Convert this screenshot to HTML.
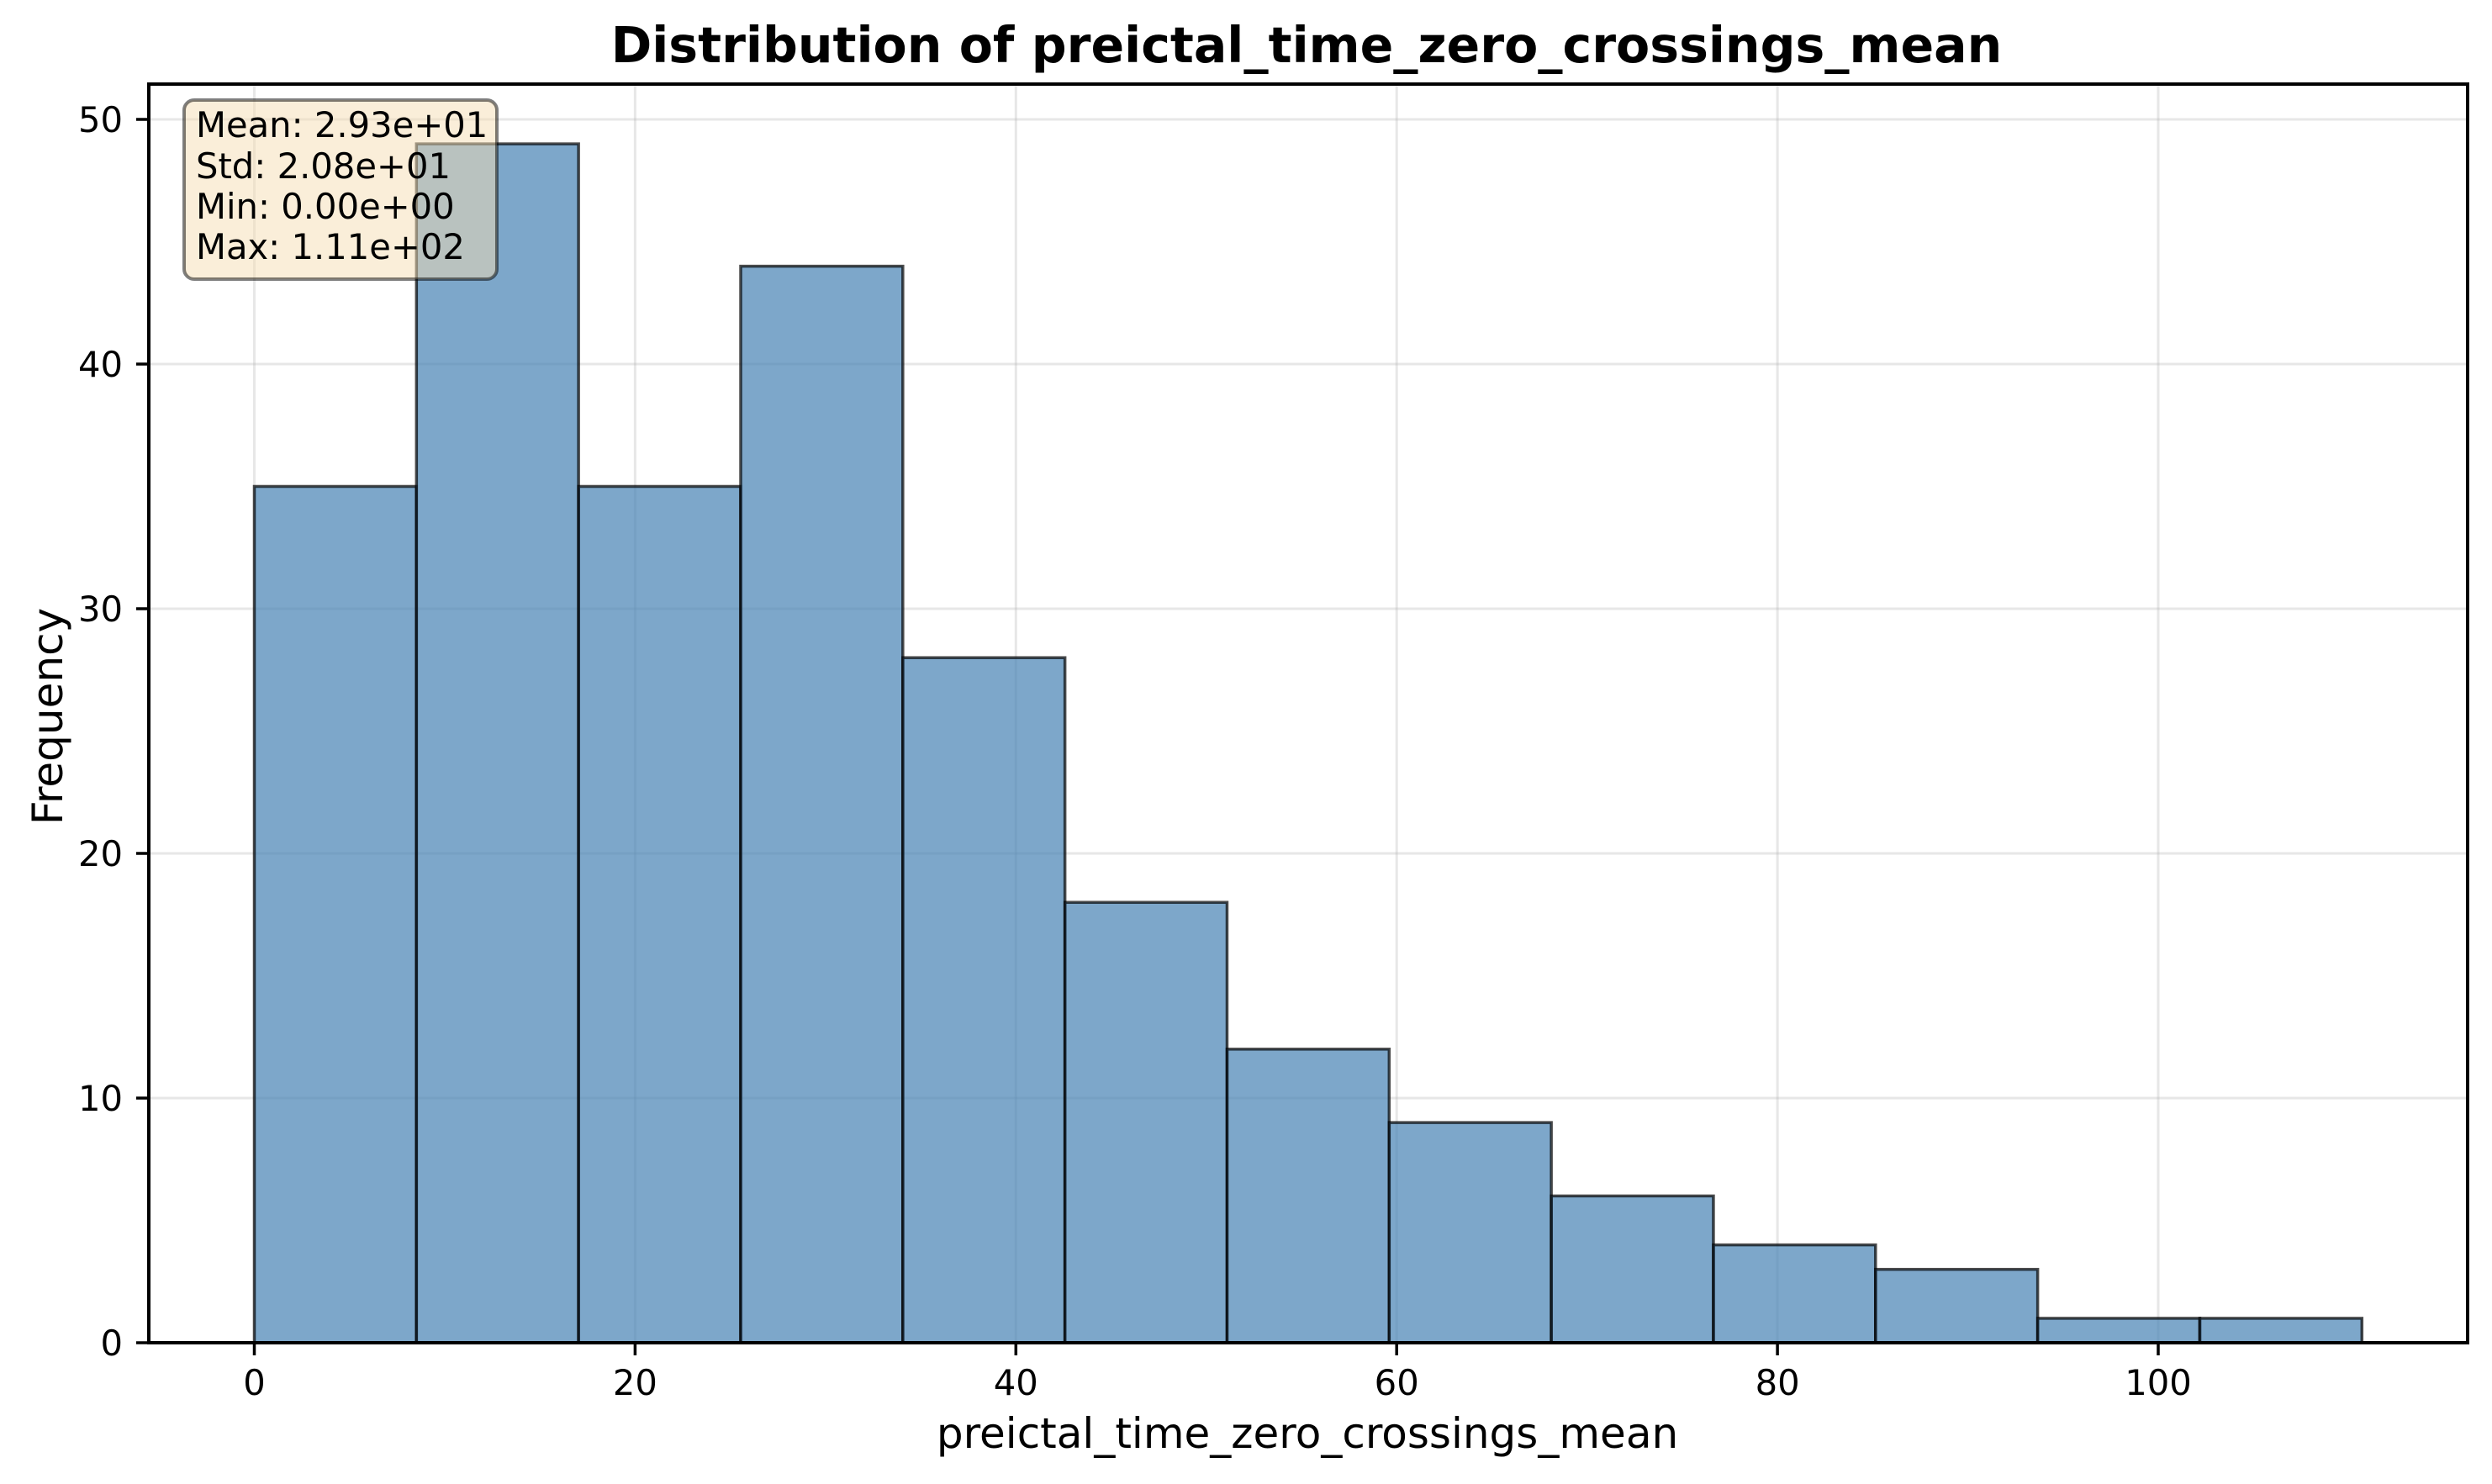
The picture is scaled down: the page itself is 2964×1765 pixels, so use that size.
<!DOCTYPE html>
<html><head><meta charset="utf-8"><style>
html,body{margin:0;padding:0;background:#fff;}
svg{display:block;font-family:"DejaVu Sans","Liberation Sans",sans-serif;}
</style></head><body>
<svg id="chart" width="2964" height="1765" viewBox="0 0 2964 1765" xmlns="http://www.w3.org/2000/svg">
<rect width="2964" height="1765" fill="#fff"/>
<g id="grid"></g>
<g id="bars"></g>
<g id="axes"></g>
<text x="1554" y="74" text-anchor="middle" font-size="58.5" font-weight="bold">Distribution of preictal_time_zero_crossings_mean</text>
<text x="1555" y="1722" text-anchor="middle" font-size="50">preictal_time_zero_crossings_mean</text>
<text transform="translate(74,852) rotate(-90)" text-anchor="middle" font-size="50">Frequency</text>
<g>
<rect x="219" y="119" width="372" height="213" rx="12" fill="#f5deb3" fill-opacity="0.5" stroke="#000" stroke-opacity="0.5" stroke-width="4"/>
<text x="233" y="163" font-size="41.7">Mean: 2.93e+01</text>
<text x="233" y="212" font-size="41.7">Std: 2.08e+01</text>
<text x="233" y="260" font-size="41.7">Min: 0.00e+00</text>
<text x="233" y="308" font-size="41.7">Max: 1.11e+02</text>
</g>
</svg>
<script>
const binMin = 0;
const binMax = 110.7;
const counts = [35, 49, 35, 44, 28, 18, 12, 9, 6, 4, 3, 1, 1];
const xTicks = [0, 20, 40, 60, 80, 100];
const yTicks = [0, 10, 20, 30, 40, 50];

const L = 177, R = 2935, T = 100, B = 1597;
const x0px = 302.5, xPerUnit = 22.645;
const yPerUnit = 29.1;
const X = v => x0px + v * xPerUnit;
const Y = v => B - v * yPerUnit;
const NS = "http://www.w3.org/2000/svg";
function mk(tag, attrs, parent) {
  const e = document.createElementNS(NS, tag);
  for (const k in attrs) e.setAttribute(k, attrs[k]);
  parent.appendChild(e);
  return e;
}
const grid = document.getElementById('grid');
const bars = document.getElementById('bars');
const axes = document.getElementById('axes');

xTicks.forEach(t => {
  const g = mk('line', {x1: X(t), x2: X(t), y1: T, y2: B, stroke: '#b0b0b0', 'stroke-opacity': 0.3, 'stroke-width': 3}, grid);
  
  
});
yTicks.forEach(t => {
  const g = mk('line', {x1: L, x2: R, y1: Y(t), y2: Y(t), stroke: '#b0b0b0', 'stroke-opacity': 0.3, 'stroke-width': 3}, grid);
  
  
});

const w = (binMax - binMin) / counts.length;
counts.forEach((c, i) => {
  const a = binMin + i * w, b = a + w;
  const r = mk('rect', {x: X(a), y: Y(c), width: X(b) - X(a), height: Y(0) - Y(c), fill: '#4682b4', 'fill-opacity': 0.7, stroke: '#000', 'stroke-opacity': 0.7, 'stroke-width': 3.5}, bars);
  
  
});

const frame = mk('rect', {x: L, y: T, width: R - L, height: B - T, fill: 'none', stroke: '#000', 'stroke-width': 4}, axes);



xTicks.forEach(t => {
  const tk = mk('line', {x1: X(t), x2: X(t), y1: B, y2: B + 15, stroke: '#000', 'stroke-width': 3.5}, axes);
  
  
  const tx = mk('text', {x: X(t), y: 1659, 'text-anchor': 'middle', 'font-size': 41.7}, axes);
  tx.textContent = t;
  
  
});
yTicks.forEach(t => {
  const tk = mk('line', {x1: L - 15, x2: L, y1: Y(t), y2: Y(t), stroke: '#000', 'stroke-width': 3.5}, axes);
  
  
  const tx = mk('text', {x: 146, y: Y(t) + 15, 'text-anchor': 'end', 'font-size': 41.7}, axes);
  tx.textContent = t;
  
  
});
</script>
</body></html>
